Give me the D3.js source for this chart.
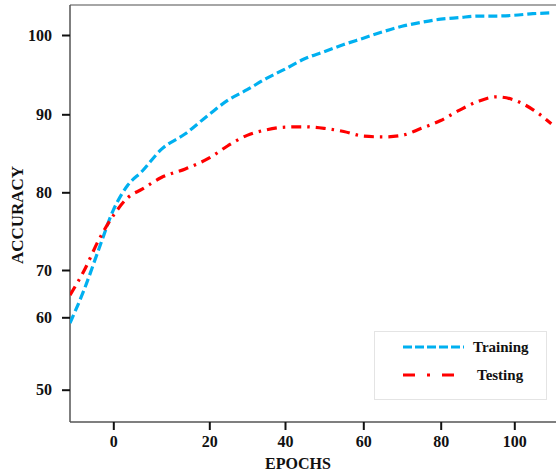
<!DOCTYPE html>
<html>
<head>
<meta charset="utf-8">
<script src="https://cdn.jsdelivr.net/npm/d3@7"></script>
<style>
  body { margin: 0; background: #fff; }
  svg text { font-family: "Liberation Serif", "Times New Roman", serif; font-weight: bold; fill: #111; }
</style>
</head>
<body>
<svg id="graph" width="556" height="474"></svg>
<script>
// data
var epochs = [-9, -6, -3, 0, 3, 6, 10, 15, 20, 25, 30, 35, 40, 45, 50, 55, 60, 65, 70, 75, 80, 85, 90, 95, 100, 105, 110]
var training = [59.2, 66.0, 72.7, 77.7, 80.9, 82.7, 85.5, 87.5, 90.0, 91.8, 93.1, 94.5, 95.7, 97.0, 97.9, 98.8, 99.6, 100.4, 101.1, 101.6, 102.0, 102.2, 102.4, 102.4, 102.5, 102.7, 102.8]
var testing = [64.7, 70.0, 73.9, 77.0, 79.3, 80.4, 81.9, 83.0, 84.4, 86.0, 87.3, 88.0, 88.35, 88.4, 88.2, 87.8, 87.2, 87.1, 87.3, 88.2, 89.2, 90.5, 91.6, 92.2, 91.8, 90.6, 88.8]

var xTicks = [0, 20, 40, 60, 80, 100]
var yTicks = [50, 60, 70, 80, 90, 100]
var seriesNames = ["Training", "Testing"]

// the original axes are not evenly spaced, so the scales are piecewise
var pLeft = 70, pTop = 5, pRight = 560, pBottom = 422

var xScale = d3.scaleLinear()
    .domain([-9, 0, 20, 40, 60, 80, 100, 111])
    .range([pLeft, 113.3, 209.3, 285, 363.3, 440.7, 514.3, 555])

var yScale = d3.scaleLinear()
    .domain([45.5, 50, 60, 70, 80, 90, 100, 103.8])
    .range([pBottom, 389.7, 317.3, 270, 192.3, 114.3, 35, pTop])

var svg = d3.select("#graph")

svg.append("defs").append("clipPath").attr("id", "clip")
    .append("rect")
    .attr("x", pLeft).attr("y", pTop)
    .attr("width", pRight - pLeft).attr("height", pBottom - pTop)

// frame
svg.append("line")
    .attr("x1", pLeft).attr("x2", pRight)
    .attr("y1", pTop).attr("y2", pTop)
    .attr("stroke", "#888").attr("stroke-width", 1.5)

var xAxis = svg.append("g")
    .attr("transform", "translate(0," + pBottom + ")")
    .call(d3.axisBottom(xScale).tickValues(xTicks).tickSize(8).tickPadding(6).tickSizeOuter(0))
xAxis.select(".domain").attr("stroke", "#555").attr("stroke-width", 1.5)
    .attr("d", "M" + pLeft + ",0H" + pRight)
xAxis.selectAll(".tick line").attr("stroke", "#111").attr("stroke-width", 2)
xAxis.selectAll("text").style("font-size", "16px")

var yAxis = svg.append("g")
    .attr("transform", "translate(" + pLeft + ",0)")
    .call(d3.axisLeft(yScale).tickValues(yTicks).tickSize(8).tickPadding(10).tickSizeOuter(0))
yAxis.select(".domain").attr("stroke", "#555").attr("stroke-width", 1.5)
    .attr("d", "M0," + pTop + "V" + pBottom)
yAxis.selectAll(".tick line").attr("stroke", "#111").attr("stroke-width", 2)
yAxis.selectAll("text").style("font-size", "16px")

svg.append("text")
    .attr("x", 298).attr("y", 469)
    .attr("text-anchor", "middle")
    .style("font-size", "16px")
    .text("EPOCHS")

svg.append("text")
    .attr("transform", "translate(23,215) rotate(-90)")
    .attr("text-anchor", "middle")
    .style("font-size", "17px")
    .text("ACCURACY")

var line = d3.line()
    .x(d => xScale(d[0]))
    .y(d => yScale(d[1]))
    .curve(d3.curveMonotoneX)

var styles = [
    { color: "#00b0f0", dash: "9,4" },
    { color: "#ff0000", dash: "10,6,2.5,6" }
]

var plot = svg.append("g").attr("clip-path", "url(#clip)")

;[training, testing].forEach((vals, i) => {
    plot.append("path")
        .datum(epochs.map((e, j) => [e, vals[j]]))
        .attr("fill", "none")
        .attr("stroke", styles[i].color)
        .attr("stroke-width", 3.2)
        .attr("stroke-dasharray", styles[i].dash)
        .attr("d", line)
})

// legend
var legend = svg.append("g")
legend.append("rect")
    .attr("x", 374.5).attr("y", 331.5)
    .attr("width", 172).attr("height", 68)
    .attr("fill", "#fff").attr("stroke", "#e4e4e4").attr("stroke-width", 1)

seriesNames.forEach((name, i) => {
    var y = 347 + i * 28
    legend.append("line")
        .attr("x1", 403).attr("x2", 464)
        .attr("y1", y).attr("y2", y)
        .attr("stroke", styles[i].color)
        .attr("stroke-width", 3.2)
        .attr("stroke-dasharray", i == 0 ? "9,3" : "12,12,3,12")
    legend.append("text")
        .attr("x", i == 0 ? 473 : 477).attr("y", y + 5)
        .style("font-size", "15px")
        .text(name)
})
</script>
</body>
</html>
